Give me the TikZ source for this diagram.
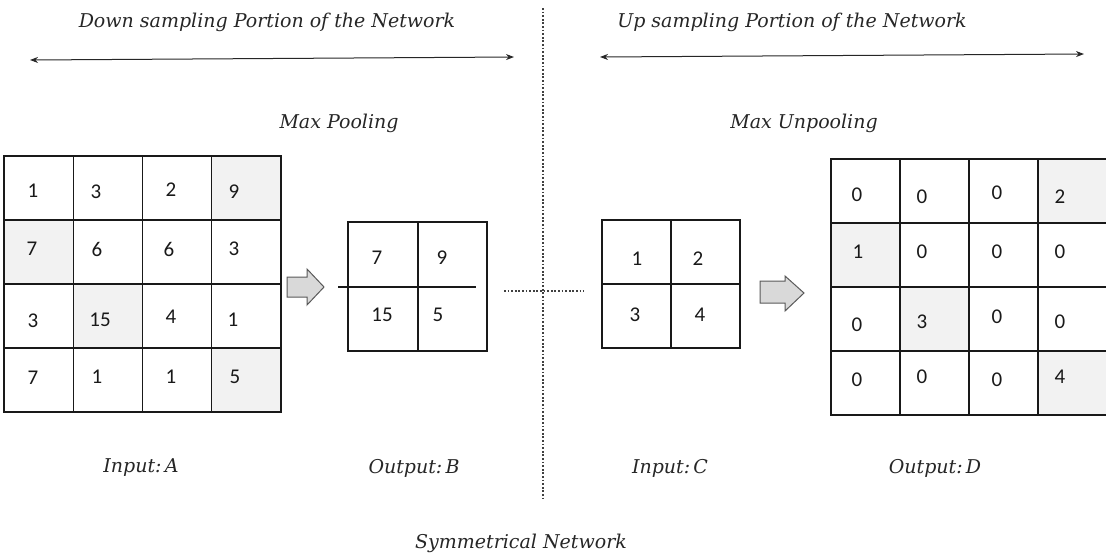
\documentclass[tikz,border=0pt]{standalone}
\usepackage{fontspec}
\newfontfamily\numfont{Carlito}
\newfontfamily\labfont{DejaVu Serif}
\usetikzlibrary{arrows.meta}
\definecolor{shade}{HTML}{F2F2F2}
\definecolor{arrfill}{HTML}{D9D9D9}
\definecolor{arrdraw}{HTML}{595959}
\definecolor{dotcol}{HTML}{404040}
\tikzset{
  cellline/.style={draw=black!90, line width=0.6pt},
  shadecell/.style={fill=shade, draw=none},
  num/.style={font=\numfont\fontsize{10.5}{12}\selectfont, inner sep=0pt, text=black!90},
  itlabel/.style={font=\labfont\itshape\fontsize{9.5}{11}\selectfont, inner sep=0pt, text=black!85},
  span/.style={line width=0.5pt, black!85, {Stealth[length=4pt,width=3pt]}-{Stealth[length=4pt,width=3pt]}},
  dotline/.style={dotcol, line width=0.55pt, dash pattern=on 0.9pt off 0.9pt},
  blockarrow/.style={draw=arrdraw, fill=arrfill, line width=0.5pt, line join=miter},
}
\begin{document}
\begin{tikzpicture}[x=0.5pt,y=-0.5pt]
\useasboundingbox (0,0) rectangle (1106,553);
\clip (0,0) rectangle (1106,553);

% headings
\node[itlabel] (down) at (267,22) {Down sampling Portion of the Network};
\node[itlabel] (up) at (792,22) {Up sampling Portion of the Network};
\coordinate (dl) at (30,60); \coordinate (dr) at (514,57);
\coordinate (ul) at (600,57); \coordinate (ur) at (1084,54);
\draw[span] (dl) -- (dr);
\draw[span] (ul) -- (ur);
\node[itlabel] (maxpool) at (339,123) {Max Pooling};
\node[itlabel] (maxunpool) at (804,123) {Max Unpooling};

% vertical dotted separator
\coordinate (vt) at (543,8); \coordinate (vb) at (543,500);
\draw[dotline] (vt) -- (vb);
\coordinate (hl) at (504,291); \coordinate (hr) at (584,291);
\draw[dotline] (hl) -- (hr);

% ---- Grid A ----
\fill[shadecell] (211.7,156) rectangle (281,220);
\fill[shadecell] (4,220) rectangle (73.5,284);
\fill[shadecell] (73.5,284) rectangle (142.7,348);
\fill[shadecell] (211.7,348) rectangle (281,412);
\draw[cellline] (4,156) rectangle (281,412);
\foreach \x in {73.5,142.7,211.7} \draw[cellline] (\x,156) -- (\x,412);
\foreach \y in {220,284,348} \draw[cellline] (4,\y) -- (281,\y);
\node[num] (a11) at (33,191) {1};
\node[num] (a12) at (96,192) {3};
\node[num] (a13) at (171,190) {2};
\node[num] (a14) at (234,192) {9};
\node[num] (a21) at (32,249) {7};
\node[num] (a22) at (97,249) {6};
\node[num] (a23) at (169,249) {6};
\node[num] (a24) at (234,249) {3};
\node[num] (a31) at (33,321) {3};
\node[num] (a32) at (100,320) {15};
\node[num] (a33) at (171,317) {4};
\node[num] (a34) at (233,320) {1};
\node[num] (a41) at (33,378) {7};
\node[num] (a42) at (97,377) {1};
\node[num] (a43) at (171,377) {1};
\node[num] (a44) at (235,377) {5};

% block arrow 1
\coordinate (arr1) at (324,287);
\draw[blockarrow] (287,277) -- (307,277) -- (307,269) -- (arr1) -- (307,305) -- (307,297) -- (287,297) -- cycle;

% ---- Grid B ----
\draw[cellline] (348,222) rectangle (487,351);
\draw[cellline] (418,222) -- (418,351);
\coordinate (bl) at (338,287); \coordinate (br) at (476,287);
\draw[cellline] (bl) -- (br);
\node[num] (b11) at (377,258) {7};
\node[num] (b12) at (442,258) {9};
\node[num] (b21) at (382,315) {15};
\node[num] (b22) at (438,315) {5};

% ---- Grid C ----
\draw[cellline] (602,220) rectangle (740,348);
\draw[cellline] (671,220) -- (671,348);
\draw[cellline] (602,284) -- (740,284);
\node[num] (c11) at (637,259) {1};
\node[num] (c12) at (698,259) {2};
\node[num] (c21) at (635,315) {3};
\node[num] (c22) at (700,315) {4};

% block arrow 2
\coordinate (arr2) at (804,293);
\draw[blockarrow] (760,281) -- (785,281) -- (785,276) -- (arr2) -- (785,311) -- (785,303) -- (760,303) -- cycle;

% ---- Grid D ----
\fill[shadecell] (1038,159) rectangle (1110,223);
\fill[shadecell] (831,223) rectangle (900,287);
\fill[shadecell] (900,287) rectangle (969,351);
\fill[shadecell] (1038,351) rectangle (1110,415);
\draw[cellline] (1110,159) -- (831,159) -- (831,415) -- (1110,415);
\foreach \x in {900,969,1038} \draw[cellline] (\x,159) -- (\x,415);
\foreach \y in {223,287,351} \draw[cellline] (831,\y) -- (1110,\y);
\node[num] (d11) at (857,195) {0};
\node[num] (d12) at (922,197) {0};
\node[num] (d13) at (997,193) {0};
\node[num] (d14) at (1060,197) {2};
\node[num] (d21) at (858,252) {1};
\node[num] (d22) at (922,252) {0};
\node[num] (d23) at (997,252) {0};
\node[num] (d24) at (1060,252) {0};
\node[num] (d31) at (857,325) {0};
\node[num] (d32) at (922,322) {3};
\node[num] (d33) at (997,317) {0};
\node[num] (d34) at (1060,322) {0};
\node[num] (d41) at (857,380) {0};
\node[num] (d42) at (922,377) {0};
\node[num] (d43) at (997,380) {0};
\node[num] (d44) at (1060,377) {4};

% bottom labels
\node[itlabel] (inA) at (141,468) {Input:\,A};
\node[itlabel] (outB) at (414,468) {Output:\,B};
\node[itlabel] (inC) at (670,468) {Input:\,C};
\node[itlabel] (outD) at (935,468) {Output:\,D};
\node[itlabel] (sym) at (521,543) {Symmetrical Network};
\end{tikzpicture}
\end{document}
